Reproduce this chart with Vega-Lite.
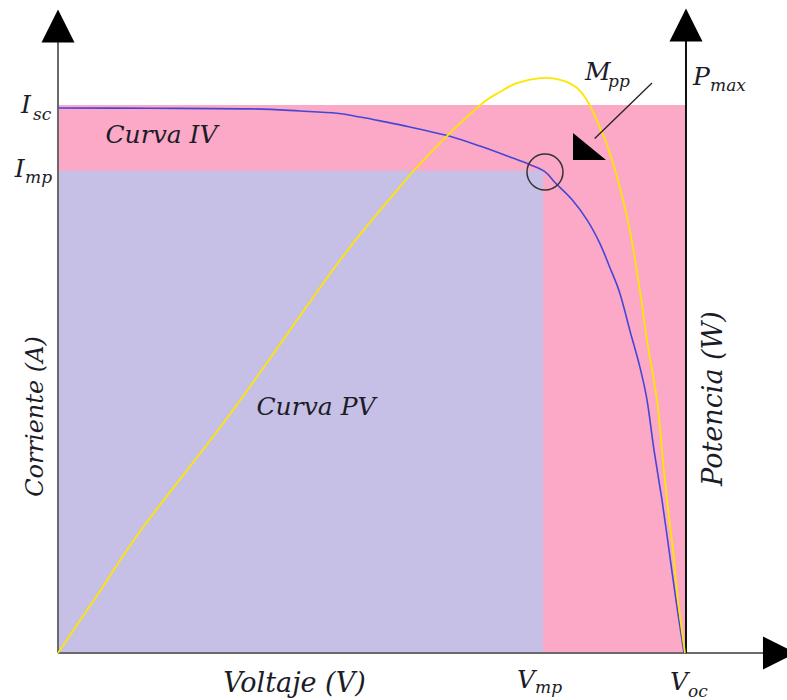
{
  "$schema": "https://vega.github.io/schema/vega-lite/v6.json",
  "width": 787,
  "height": 700,
  "autosize": {"type": "none"},
  "padding": 0,
  "background": "white",
  "config": {"view": {"stroke": null}},
  "datasets": {
    "regions": [
      {"name": "Pmax area", "v0": 0, "v1": 100.16, "i0": 0, "i1": 100},
      {"name": "Mpp area", "v0": 0, "v1": 77.35, "i0": 0, "i1": 88}
    ],
    "iv": [
      {"v": 0, "i": 99.45}, {"v": 14.7, "i": 99.4}, {"v": 30.6, "i": 99.3}, {"v": 38.6, "i": 98.9},
      {"v": 44.5, "i": 98.5}, {"v": 48.2, "i": 97.8}, {"v": 51.4, "i": 97.1}, {"v": 56.1, "i": 96.0},
      {"v": 62.5, "i": 94.3}, {"v": 67.3, "i": 92.5}, {"v": 72.1, "i": 90.5}, {"v": 75.3, "i": 89.1},
      {"v": 77.7, "i": 87.8}, {"v": 79.3, "i": 85.8}, {"v": 82.0, "i": 82.7}, {"v": 84.4, "i": 79.0},
      {"v": 86.4, "i": 74.8}, {"v": 88.0, "i": 70.4}, {"v": 89.6, "i": 65.7}, {"v": 91.2, "i": 58.9},
      {"v": 92.8, "i": 52.2}, {"v": 93.94, "i": 46.17}, {"v": 95.06, "i": 37.04}, {"v": 96.33, "i": 27.92},
      {"v": 97.45, "i": 18.8}, {"v": 98.56, "i": 9.67}, {"v": 99.84, "i": 0}
    ],
    "pv": [
      {"v": 0, "p": 0}, {"v": 6.7, "p": 11.3}, {"v": 13.6, "p": 23.0}, {"v": 27.9, "p": 44.3},
      {"v": 45.0, "p": 71.7}, {"v": 54.5, "p": 85.0}, {"v": 57.3, "p": 88.7}, {"v": 63.0, "p": 95.4},
      {"v": 67.8, "p": 100.4}, {"v": 70.5, "p": 102.4}, {"v": 73.2, "p": 104.0}, {"v": 76.9, "p": 104.9},
      {"v": 80.1, "p": 104.6}, {"v": 82.8, "p": 103.1}, {"v": 84.8, "p": 100.0}, {"v": 86.9, "p": 94.6},
      {"v": 87.7, "p": 92.3}, {"v": 89.3, "p": 86.3}, {"v": 91.2, "p": 77.2}, {"v": 92.8, "p": 66.2},
      {"v": 93.94, "p": 57.1}, {"v": 95.53, "p": 46.17}, {"v": 96.33, "p": 37.04}, {"v": 97.13, "p": 27.92},
      {"v": 98.09, "p": 18.8}, {"v": 98.88, "p": 9.67}, {"v": 100, "p": 0}
    ],
    "axes_gray": [
      {"axis": "current", "v0": 0, "v1": 0, "i0": 0, "i1": 113},
      {"axis": "voltage", "v0": 0, "v1": 113, "i0": 0, "i1": 0}
    ],
    "axes_black": [
      {"axis": "power", "v0": 100.16, "v1": 100.16, "i0": 0, "i1": 113}
    ],
    "arrows_up": [
      {"axis": "current", "v": 0, "i": 114.4},
      {"axis": "power", "v": 100.16, "i": 114.6}
    ],
    "arrows_right": [
      {"axis": "voltage", "v": 115.07, "i": 0}
    ],
    "pointer": [
      {"v0": 94.74, "i0": 104.0, "v1": 85.6, "i1": 93.9}
    ],
    "pointer_head": [
      {"v": 84.77, "i": 92.97}
    ],
    "mpp": [
      {"v": 77.67, "i": 87.77}
    ],
    "labels": [
      {"text": "Curva IV", "v": 16.51, "i": 93.07},
      {"text": "Curva PV", "v": 41.15, "i": 43.43}
    ],
    "titles": [
      {"text": "Voltaje (V)", "v": 37.72, "i": -7.12}
    ],
    "vlabels": [
      {"text": "Corriente (A)", "v": -2.39, "i": 43.16}
    ],
    "vtitles": [
      {"text": "Potencia (W)", "v": 105.9, "i": 46.44}
    ],
    "mainsym": [
      {"text": "I", "v": -5.9, "i": 98.54},
      {"text": "I", "v": -6.9, "i": 86.86},
      {"text": "M", "v": 84.05, "i": 104.56},
      {"text": "P", "v": 101.28, "i": 103.65},
      {"text": "V", "v": 73.21, "i": -6.39},
      {"text": "V", "v": 97.61, "i": -6.75}
    ],
    "subs": [
      {"text": "sc", "v": -3.99, "i": 97.26},
      {"text": "mp", "v": -5.26, "i": 85.77},
      {"text": "pp", "v": 87.72, "i": 103.28},
      {"text": "max", "v": 103.99, "i": 102.55},
      {"text": "mp", "v": 76.08, "i": -7.3},
      {"text": "oc", "v": 100.48, "i": -8.03}
    ]
  },
  "layer": [
    {
      "data": {"name": "regions"},
      "mark": {"type": "rect"},
      "encoding": {
        "x": {"field": "v0", "type": "quantitative", "scale": {"domain": [-9.25, 116.27], "nice": false, "zero": false}, "axis": null},
        "x2": {"field": "v1"},
        "y": {"field": "i0", "type": "quantitative", "scale": {"domain": [-8.58, 119.16], "nice": false, "zero": false}, "axis": null},
        "y2": {"field": "i1"},
        "color": {"field": "name", "type": "nominal", "scale": {"domain": ["Pmax area", "Mpp area"], "range": ["#FBA9C6", "#C7C0E6"]}, "legend": null}
      }
    },
    {
      "data": {"name": "axes_gray"},
      "mark": {"type": "rule", "color": "#6a6a6a", "strokeWidth": 2},
      "encoding": {
        "x": {"field": "v0", "type": "quantitative"},
        "x2": {"field": "v1"},
        "y": {"field": "i0", "type": "quantitative"},
        "y2": {"field": "i1"}
      }
    },
    {
      "data": {"name": "axes_black"},
      "mark": {"type": "rule", "color": "#111111", "strokeWidth": 2},
      "encoding": {
        "x": {"field": "v0", "type": "quantitative"},
        "x2": {"field": "v1"},
        "y": {"field": "i0", "type": "quantitative"},
        "y2": {"field": "i1"}
      }
    },
    {
      "data": {"name": "arrows_up"},
      "mark": {"type": "point", "shape": "M0,-1L1,1L-1,1Z", "filled": true, "color": "#000000", "opacity": 1, "size": 1089},
      "encoding": {
        "x": {"field": "v", "type": "quantitative"},
        "y": {"field": "i", "type": "quantitative"}
      }
    },
    {
      "data": {"name": "arrows_right"},
      "mark": {"type": "point", "shape": "M1,0L-1,-1L-1,1Z", "filled": true, "color": "#000000", "opacity": 1, "size": 1089},
      "encoding": {
        "x": {"field": "v", "type": "quantitative"},
        "y": {"field": "i", "type": "quantitative"}
      }
    },
    {
      "data": {"name": "iv"},
      "mark": {"type": "line", "color": "#4646D6", "strokeWidth": 1.6, "interpolate": "cardinal"},
      "encoding": {
        "x": {"field": "v", "type": "quantitative"},
        "y": {"field": "i", "type": "quantitative"}
      }
    },
    {
      "data": {"name": "pv"},
      "mark": {"type": "line", "color": "#FFE600", "strokeWidth": 1.8, "interpolate": "cardinal"},
      "encoding": {
        "x": {"field": "v", "type": "quantitative"},
        "y": {"field": "p", "type": "quantitative"}
      }
    },
    {
      "data": {"name": "mpp"},
      "mark": {"type": "point", "shape": "circle", "filled": false, "color": "#333333", "strokeWidth": 1.5, "opacity": 1, "size": 1296},
      "encoding": {
        "x": {"field": "v", "type": "quantitative"},
        "y": {"field": "i", "type": "quantitative"}
      }
    },
    {
      "data": {"name": "pointer"},
      "mark": {"type": "rule", "color": "#222222", "strokeWidth": 1.3},
      "encoding": {
        "x": {"field": "v0", "type": "quantitative"},
        "x2": {"field": "v1"},
        "y": {"field": "i0", "type": "quantitative"},
        "y2": {"field": "i1"}
      }
    },
    {
      "data": {"name": "pointer_head"},
      "mark": {"type": "point", "shape": "M-1,1L-1,-0.64L1,1Z", "filled": true, "color": "#000000", "opacity": 1, "size": 1089},
      "encoding": {
        "x": {"field": "v", "type": "quantitative"},
        "y": {"field": "i", "type": "quantitative"}
      }
    },
    {
      "data": {"name": "labels"},
      "mark": {"type": "text", "font": "DejaVu Serif", "fontStyle": "italic", "fontSize": 25, "align": "center", "baseline": "alphabetic", "color": "#1c1c28"},
      "encoding": {
        "x": {"field": "v", "type": "quantitative"},
        "y": {"field": "i", "type": "quantitative"},
        "text": {"field": "text"}
      }
    },
    {
      "data": {"name": "titles"},
      "mark": {"type": "text", "font": "DejaVu Serif", "fontStyle": "italic", "fontSize": 27, "align": "center", "baseline": "alphabetic", "color": "#1c1c28"},
      "encoding": {
        "x": {"field": "v", "type": "quantitative"},
        "y": {"field": "i", "type": "quantitative"},
        "text": {"field": "text"}
      }
    },
    {
      "data": {"name": "vlabels"},
      "mark": {"type": "text", "font": "DejaVu Serif", "fontStyle": "italic", "fontSize": 24, "align": "center", "baseline": "alphabetic", "angle": 270, "color": "#1c1c28"},
      "encoding": {
        "x": {"field": "v", "type": "quantitative"},
        "y": {"field": "i", "type": "quantitative"},
        "text": {"field": "text"}
      }
    },
    {
      "data": {"name": "vtitles"},
      "mark": {"type": "text", "font": "DejaVu Serif", "fontStyle": "italic", "fontSize": 27, "align": "center", "baseline": "alphabetic", "angle": 270, "color": "#1c1c28"},
      "encoding": {
        "x": {"field": "v", "type": "quantitative"},
        "y": {"field": "i", "type": "quantitative"},
        "text": {"field": "text"}
      }
    },
    {
      "data": {"name": "mainsym"},
      "mark": {"type": "text", "font": "DejaVu Serif", "fontStyle": "italic", "fontSize": 25, "align": "left", "baseline": "alphabetic", "color": "#1c1c28"},
      "encoding": {
        "x": {"field": "v", "type": "quantitative"},
        "y": {"field": "i", "type": "quantitative"},
        "text": {"field": "text"}
      }
    },
    {
      "data": {"name": "subs"},
      "mark": {"type": "text", "font": "DejaVu Serif", "fontStyle": "italic", "fontSize": 17, "align": "left", "baseline": "alphabetic", "color": "#1c1c28"},
      "encoding": {
        "x": {"field": "v", "type": "quantitative"},
        "y": {"field": "i", "type": "quantitative"},
        "text": {"field": "text"}
      }
    }
  ]
}
